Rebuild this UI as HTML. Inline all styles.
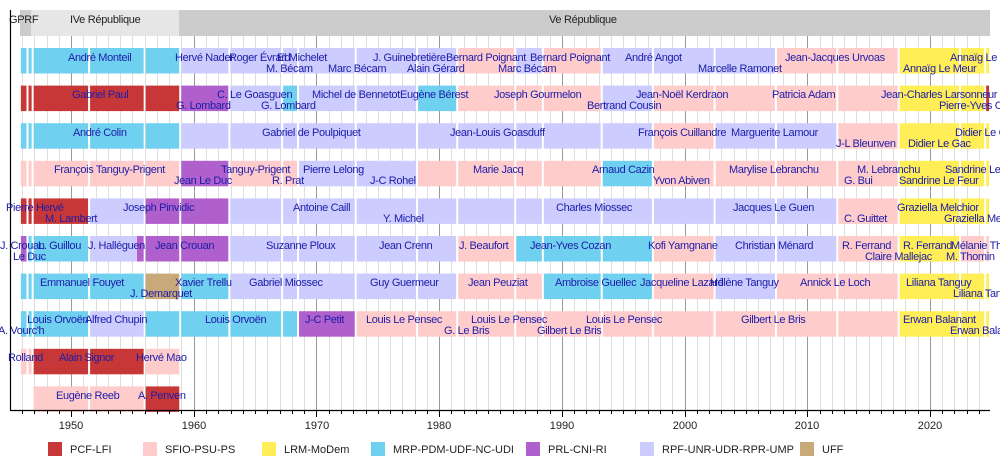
<!DOCTYPE html>
<html><head><meta charset="utf-8">
<style>
html,body{margin:0;padding:0;background:#fff;}
svg{display:block;font-family:"Liberation Sans",Arial,sans-serif;}
.l{font-size:11px;fill:#1c1ca8;letter-spacing:-0.35px;}
.h{font-size:11px;fill:#222;letter-spacing:-0.3px;}
.t{font-size:11px;fill:#222;}
</style></head><body>
<svg id="s" width="1000" height="470" viewBox="0 0 1000 470" xmlns="http://www.w3.org/2000/svg">
<g id="grid"></g>
<rect x="20" y="10" width="11" height="26" fill="#cccccc"/>
<rect x="31" y="10" width="148" height="26" fill="#e6e6e6"/>
<rect x="179" y="10" width="811" height="26" fill="#cccccc"/>
<text class="h" x="9" y="23">GPRF</text>
<text class="h" x="70" y="23">IVe République</text>
<text class="h" x="549" y="23">Ve République</text>
<g id="bars"></g>
<line x1="10.5" y1="10" x2="10.5" y2="410" stroke="#000" stroke-width="1.2"/>
<line x1="10" y1="410.5" x2="990" y2="410.5" stroke="#000" stroke-width="1.2"/>
<g id="ticks"></g>
<g class="t" text-anchor="middle">
<text x="71" y="429">1950</text><text x="194" y="429">1960</text><text x="317" y="429">1970</text>
<text x="439" y="429">1980</text><text x="562" y="429">1990</text><text x="685" y="429">2000</text>
<text x="807" y="429">2010</text><text x="930" y="429">2020</text>
</g>
<g class="t">
<rect x="48" y="442" width="14" height="14" fill="#c83737"/><text x="70" y="453">PCF-LFI</text>
<rect x="143" y="442" width="14" height="14" fill="#ffcccc"/><text x="165" y="453">SFIO-PSU-PS</text>
<rect x="262" y="442" width="14" height="14" fill="#ffee55"/><text x="284" y="453">LRM-MoDem</text>
<rect x="371" y="442" width="14" height="14" fill="#70d0f0"/><text x="393" y="453">MRP-PDM-UDF-NC-UDI</text>
<rect x="526" y="442" width="14" height="14" fill="#b060cc"/><text x="548" y="453">PRL-CNI-RI</text>
<rect x="640" y="442" width="14" height="14" fill="#ccccff"/><text x="662" y="453">RPF-UNR-UDR-RPR-UMP</text>
<rect x="800" y="442" width="14" height="14" fill="#c8aa7a"/><text x="822" y="453">UFF</text>
</g>
<g class="l">
<!-- row1 -->
<text x="68" y="61">André Monteil</text><text x="175" y="61">Hervé Nader</text><text x="229" y="61">Roger Évrard</text><text x="277" y="61">El Michelet</text>
<text x="266" y="72">M. Bécam</text><text x="328" y="72">Marc Bécam</text><text x="373" y="61">J. Guinebretière</text><text x="407" y="72">Alain Gérard</text>
<text x="446" y="61">Bernard Poignant</text><text x="530" y="61">Bernard Poignant</text><text x="498" y="72">Marc Bécam</text>
<text x="625" y="61">André Angot</text><text x="698" y="72">Marcelle Ramonet</text><text x="785" y="61">Jean-Jacques Urvoas</text>
<text x="903" y="72">Annaïg Le Meur</text><text x="950" y="61">Annaïg Le Meur</text>
<!-- row2 -->
<text x="72" y="98">Gabriel Paul</text><text x="176" y="109">G. Lombard</text><text x="217" y="98">C. Le Goasguen</text><text x="261" y="109">G. Lombard</text>
<text x="312" y="98">Michel de Bennetot</text><text x="400" y="98">Eugène Bérest</text><text x="494" y="98">Joseph Gourmelon</text>
<text x="587" y="109">Bertrand Cousin</text><text x="636" y="98">Jean-Noël Kerdraon</text><text x="772" y="98">Patricia Adam</text>
<text x="881" y="98">Jean-Charles Larsonneur</text><text x="939" y="109">Pierre-Yves Cadalen</text>
<!-- row3 -->
<text x="73" y="136">André Colin</text><text x="262" y="136">Gabriel de Poulpiquet</text><text x="450" y="136">Jean-Louis Goasduff</text>
<text x="638" y="136">François Cuillandre</text><text x="731" y="136">Marguerite Lamour</text><text x="836" y="147">J-L Bleunven</text>
<text x="908" y="147">Didier Le Gac</text><text x="955" y="136">Didier Le Gac</text>
<!-- row4 -->
<text x="54" y="173">François Tanguy-Prigent</text><text x="174" y="184">Jean Le Duc</text><text x="221" y="173">Tanguy-Prigent</text>
<text x="272" y="184">R. Prat</text><text x="303" y="173">Pierre Lelong</text><text x="370" y="184">J-C Rohel</text><text x="473" y="173">Marie Jacq</text>
<text x="592" y="173">Arnaud Cazin</text><text x="653" y="184">Yvon Abiven</text><text x="729" y="173">Marylise Lebranchu</text>
<text x="857" y="173">M. Lebranchu</text><text x="844" y="184">G. Bui</text><text x="899" y="184">Sandrine Le Feur</text><text x="945" y="173">Sandrine Le Feur</text>
<!-- row5 -->
<text x="6" y="211">Pierre Hervé</text><text x="45" y="222">M. Lambert</text><text x="123" y="211">Joseph Pinvidic</text>
<text x="293" y="211">Antoine Caill</text><text x="383" y="222">Y. Michel</text><text x="556" y="211">Charles Miossec</text>
<text x="733" y="211">Jacques Le Guen</text><text x="844" y="222">C. Guittet</text><text x="897" y="211">Graziella Melchior</text><text x="944" y="222">Graziella Melchior</text>
<!-- row6 -->
<text x="0" y="249">J. Crouan</text><text x="38" y="249">L. Guillou</text><text x="88" y="249">J. Halléguen</text><text x="13" y="260">Le Duc</text>
<text x="155" y="249">Jean Crouan</text><text x="266" y="249">Suzanne Ploux</text><text x="379" y="249">Jean Crenn</text><text x="459" y="249">J. Beaufort</text>
<text x="530" y="249">Jean-Yves Cozan</text><text x="648" y="249">Kofi Yamgnane</text><text x="735" y="249">Christian Ménard</text>
<text x="842" y="249">R. Ferrand</text><text x="903" y="249">R. Ferrand</text><text x="951" y="249">Mélanie Thomin</text>
<text x="865" y="260">Claire Mallejac</text><text x="946" y="260">M. Thomin</text>
<!-- row7 -->
<text x="40" y="286">Emmanuel Fouyet</text><text x="175" y="286">Xavier Trellu</text><text x="130" y="297">J. Demarquet</text>
<text x="249" y="286">Gabriel Miossec</text><text x="370" y="286">Guy Guermeur</text><text x="468" y="286">Jean Peuziat</text>
<text x="555" y="286">Ambroise Guellec</text><text x="640" y="286">Jacqueline Lazard</text><text x="710" y="286">Hélène Tanguy</text>
<text x="800" y="286">Annick Le Loch</text><text x="906" y="286">Liliana Tanguy</text><text x="953" y="297">Liliana Tanguy</text>
<!-- row8 -->
<text x="27" y="323">Louis Orvoën</text><text x="85" y="323">Alfred Chupin</text><text x="-2" y="334">A. Vourc'h</text>
<text x="205" y="323">Louis Orvoën</text><text x="305" y="323">J-C Petit</text><text x="366" y="323">Louis Le Pensec</text>
<text x="444" y="334">G. Le Bris</text><text x="471" y="323">Louis Le Pensec</text><text x="537" y="334">Gilbert Le Bris</text>
<text x="586" y="323">Louis Le Pensec</text><text x="741" y="323">Gilbert Le Bris</text><text x="903" y="323">Erwan Balanant</text><text x="950" y="334">Erwan Balanant</text>
<!-- row9/10 -->
<text x="8" y="361">Rolland</text><text x="59" y="361">Alain Signor</text><text x="136" y="361">Hervé Mao</text>
<text x="56" y="399">Eugène Reeb</text><text x="138" y="399">A. Penven</text>
</g>
</svg>
<script>
var NS="http://www.w3.org/2000/svg";
function X(y){return 9.7+(y-1945)*12.27;}
function el(p,n,a){var e=document.createElementNS(NS,n);for(var k in a)e.setAttribute(k,a[k]);document.getElementById(p).appendChild(e);}
for(var y=1946;y<=2024;y++){var x=Math.round(X(y))+0.5;var d=y%10==0;
 el("grid","line",{x1:x,y1:36,x2:x,y2:410,stroke:d?"#999":"#ddd","stroke-width":1});
 el("ticks","line",{x1:x,y1:410,x2:x,y2:d?417:414,stroke:"#000","stroke-width":1});}
var B=[1945.83,1946.45,1946.87,1951.47,1956.0,1958.9,1962.9,1967.2,1968.5,1973.2,1978.2,1981.47,1986.2,1988.45,1993.25,1997.42,2002.45,2007.45,2012.45,2017.45,2022.45,2024.5,2024.9];
var C={C:"#c83737",S:"#ffcccc",L:"#ffee55",M:"#70d0f0",P:"#b060cc",R:"#ccccff",U:"#c8aa7a"};
var rows=["MMMMMRRRRRRSRSRRRSSLLL","CCCCCPRMRRMSSSRSSSSLLC","MMMMMRRRRRRRRRRSRRSLLL","SSSSSPSSRRSSSSMSSSSLLL","CCCRPPRRRRRRRRRRRRSLLL","PMMRPPRRRRRSMMMSRRSLSS","MMMMUMRRRRRSSMMSRSSLLL","MMMRMMMMPSSSSSSSSSSLLL","SSCCS","  SSC"];
rows.forEach(function(r,i){var top=48+37.6*i;
 for(var j=0;j<r.length;j++){var c=r[j];if(c==" ")continue;
  var x1=X(B[j])+1,x2=X(B[j+1])-1;
  if(i==5&&j==3){el("bars","rect",{x:x1,y:top,width:X(1955.3)-x1,height:25.5,fill:C.R});el("bars","rect",{x:X(1955.35),y:top,width:x2-X(1955.35),height:25.5,fill:C.P});continue;}
  el("bars","rect",{x:x1,y:top,width:x2-x1,height:25.5,fill:C[c]});}});
</script>
</body></html>
